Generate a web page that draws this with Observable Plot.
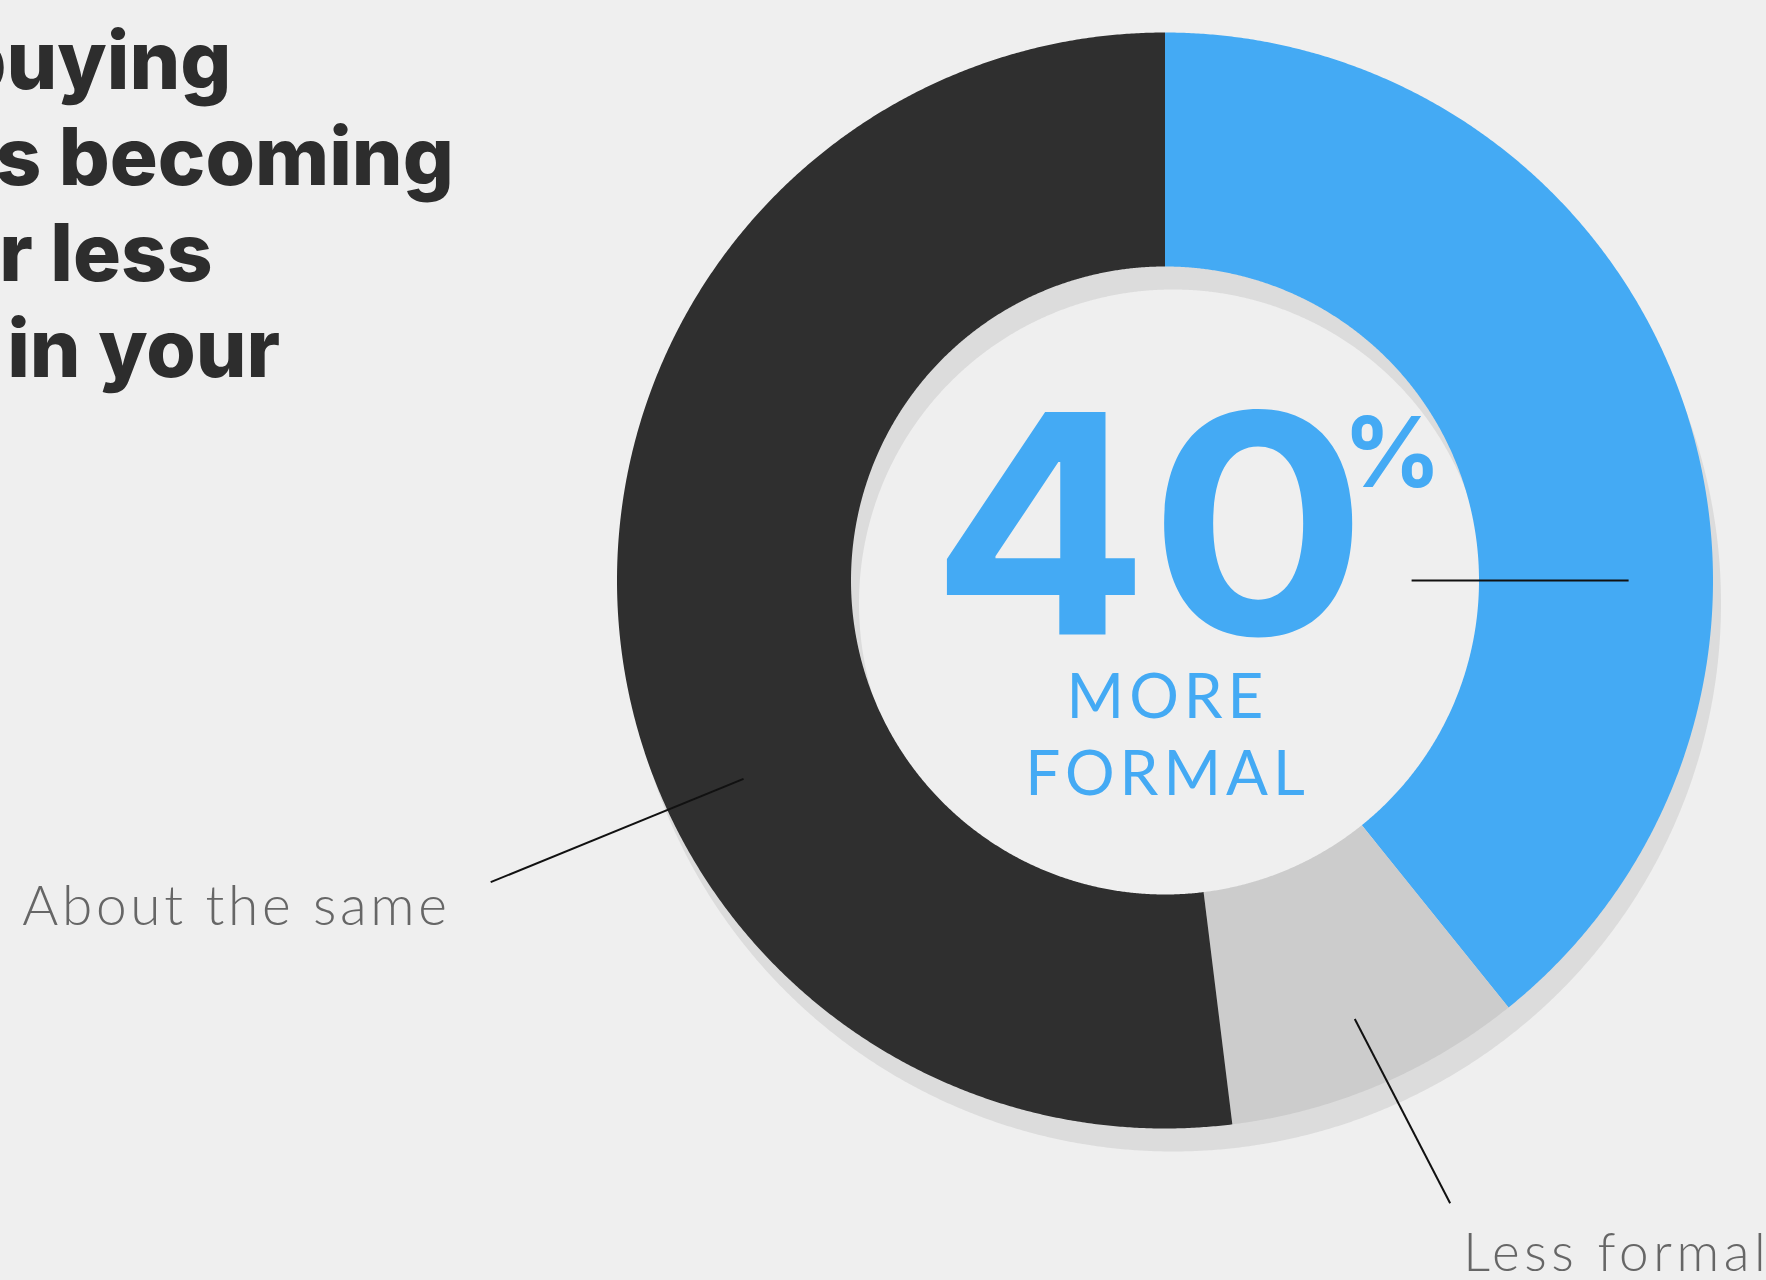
<!DOCTYPE html>
<html>
<head>
<meta charset="utf-8">
<script src="https://cdn.jsdelivr.net/npm/d3@7"></script>
<script src="https://cdn.jsdelivr.net/npm/@observablehq/plot@0.6"></script>
<style>
  html, body { margin: 0; padding: 0; background: #efefef; }
  #wrap { position: relative; width: 1766px; height: 1280px; overflow: hidden; background: #efefef; }
  #title {
    position: absolute; left: -278px; top: 12px; margin: 0;
    font-family: Inter, "Noto Sans", sans-serif; font-weight: 800;
    font-size: 80px; line-height: 96px; color: #2d2d2d; white-space: nowrap;
  }
  #title span { display: block; }
  #chart { position: absolute; left: 0; top: 0; }
</style>
</head>
<body>
<div id="wrap">
  <h1 id="title"></h1>
  <div id="chart"></div>
</div>
<script>
// ---- data ----
const categories = ["More formal", "Less formal", "About the same"];
const values = [40, 9, 53];
const colors = ["#44aaf4", "#cccccc", "#2f2f2f"];
const titleLines = ["Is the buying", "process becoming", "more or less", "formal in your"];

// leader lines (annotation geometry, in degrees clockwise from 12 o'clock and radius units)
const leaderCats = ["More formal", "Less formal", "About the same"];
const leaderStartAngle = [90, 156.6, 244.8];
const leaderEndAngle = [90, 155.4, 245.9];
const leaderStartR = [0.45, 0.872, 0.85];
const leaderEndR = [0.846, 1.25, 1.348];

// ---- layout ----
const W = 1766, H = 1280;
const cx = 1164.5, cy = 580, R = 548;
const innerR = 314 / R;
const titleIndent = [0, 0, 7, 9];

const titleEl = document.getElementById("title");
titleLines.forEach((t, i) => {
  const s = document.createElement("span");
  s.textContent = t;
  s.style.marginLeft = titleIndent[i] + "px";
  titleEl.appendChild(s);
});

const data = categories.map((c, i) => ({category: c, value: values[i]}));
const arcs = d3.pie().sort(null).value(d => d.value)(data);

function sector(a0, a1, r0, r1, key) {
  const pts = [];
  const n = Math.max(2, Math.ceil((a1 - a0) / (Math.PI / 720)));
  for (let i = 0; i <= n; i++) {
    const a = a0 + (a1 - a0) * i / n;
    pts.push({key, x: r1 * Math.sin(a), y: r1 * Math.cos(a)});
  }
  for (let i = n; i >= 0; i--) {
    const a = a0 + (a1 - a0) * i / n;
    pts.push({key, x: r0 * Math.sin(a), y: r0 * Math.cos(a)});
  }
  return pts;
}

const slicePts = arcs.flatMap(a => sector(a.startAngle, a.endAngle, innerR, 1, a.data.category));
const shadowPts = sector(0, 2 * Math.PI, innerR, 1, "shadow");

const rad = d => d * Math.PI / 180;
const leaders = leaderCats.map((c, i) => ({
  category: c,
  x1: leaderStartR[i] * Math.sin(rad(leaderStartAngle[i])),
  y1: leaderStartR[i] * Math.cos(rad(leaderStartAngle[i])),
  x2: leaderEndR[i] * Math.sin(rad(leaderEndAngle[i])),
  y2: leaderEndR[i] * Math.cos(rad(leaderEndAngle[i]))
}));
const leaderOf = c => leaders.find(l => l.category === c);

const centerVal = [{x: 0, y: 0, text: String(values[0])}];
const centerSub = [{x: 0, y: 0, text: categories[0].toUpperCase().split(" ").join("\n")}];

const chart = Plot.plot({
  width: W, height: H, margin: 0,
  style: {background: "transparent", overflow: "visible"},
  x: {domain: [-cx / R, (W - cx) / R], axis: null},
  y: {domain: [-(H - cy) / R, cy / R], axis: null},
  color: {domain: categories, range: colors},
  marks: [
    Plot.line(shadowPts, {x: "x", y: "y", fill: "#dcdcdc", stroke: "none", dx: 8, dy: 23}),
    Plot.line(slicePts, {x: "x", y: "y", z: "key", fill: "key", stroke: "none"}),
    Plot.link(leaders, {x1: "x1", y1: "y1", x2: "x2", y2: "y2", stroke: "#111", strokeWidth: 2}),
    Plot.text(centerVal, {x: "x", y: "y", text: "text", textAnchor: "middle", lineAnchor: "bottom",
      dx: -16, dy: 54, fontSize: 306, fontWeight: 700, fontFamily: "Inter", fill: "#44aaf4",
      ariaDescription: "center-value"}),
    Plot.text(centerVal, {x: "x", y: "y", text: () => "%", textAnchor: "start", lineAnchor: "bottom",
      dx: 178, dy: -94, fontSize: 97, fontWeight: 700, fontFamily: "Inter", fill: "#44aaf4"}),
    Plot.text(centerSub, {x: "x", y: "y", text: "text", textAnchor: "middle", lineAnchor: "bottom",
      dx: 2.5, dy: 214, fontSize: 62, lineHeight: 1.23, fontWeight: 400, fontFamily: "Lato", fill: "#44aaf4",
      ariaDescription: "center-sub"}),
    Plot.text([leaderOf("About the same")], {x: "x2", y: "y2", text: "category", textAnchor: "end",
      lineAnchor: "bottom", dx: -40, dy: 43, fontSize: 55, fontWeight: 300, fontFamily: "Lato", fill: "#666666",
      ariaDescription: "label-same"}),
    Plot.text([leaderOf("Less formal")], {x: "x2", y: "y2", text: "category", textAnchor: "start",
      lineAnchor: "bottom", dx: 13, dy: 68, fontSize: 53, fontWeight: 300, fontFamily: "Lato", fill: "#666666",
      ariaDescription: "label-less"})
  ]
});

// letter-spacing for the wide-tracked labels, slight widening of the big figure
const spacing = {"center-sub": "5px", "label-same": "3.7px", "label-less": "4.6px"};
d3.select(chart).selectAll("g[aria-description]").each(function() {
  const key = this.getAttribute("aria-description");
  const s = spacing[key];
  if (s) d3.select(this).selectAll("text").style("letter-spacing", s);
  if (key === "center-value") {
    d3.select(this).selectAll("text").each(function() {
      const t = this.getAttribute("transform") || "";
      this.setAttribute("transform", (t + " scale(1.055,1)").trim());
    });
  }
});
document.getElementById("chart").appendChild(chart);
</script>
</body>
</html>
